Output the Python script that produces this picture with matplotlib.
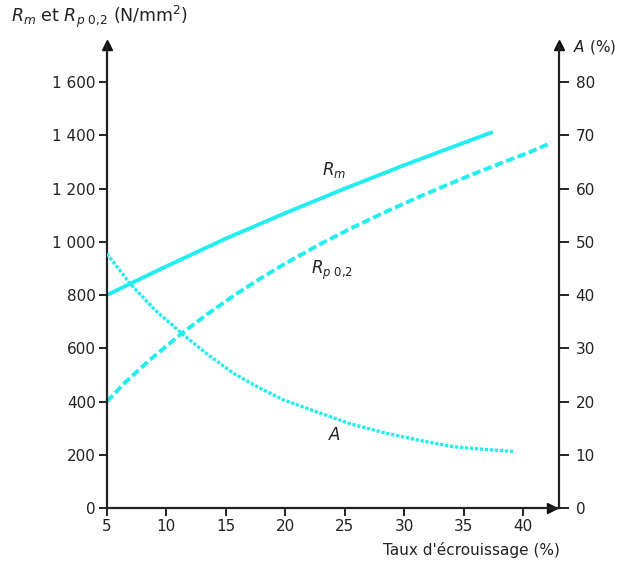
import matplotlib.pyplot as plt

plt.rcParams['font.family'] = ['DejaVu Sans']
plt.rcParams['mathtext.fontset'] = 'custom'
plt.rcParams['mathtext.it'] = 'DejaVu Sans:italic'
plt.rcParams['mathtext.rm'] = 'DejaVu Sans'

# Data
x_rm = [5, 10, 15, 20, 25, 30, 35, 37.3]
rm = [800, 908, 1012, 1108, 1200, 1288, 1372, 1410]

x_rp = [5, 6.5, 8.6, 11.3, 13.5, 15.65, 17.8, 19.9, 23, 25.5, 28.6, 31.5, 34.2, 36.5, 38.4, 40.5, 42.35]
rp = [400, 470, 556, 656, 730, 797, 859, 916, 993, 1050, 1116, 1174, 1225, 1267, 1300, 1336, 1372]

x_a = [5, 6.94, 9.0, 11.3, 13.5, 15.65, 17.8, 19.87, 22.96, 25.5, 28.58, 31.5, 34.2, 36.8, 39.26]
a = [47.8, 42.2, 37.3, 32.8, 28.8, 25.3, 22.6, 20.3, 17.8, 15.8, 14.0, 12.6, 11.5, 11.0, 10.6]

xticks = [5, 10, 15, 20, 25, 30, 35, 40]
left_ticks = [0, 200, 400, 600, 800, 1000, 1200, 1400, 1600]
left_labels = ['0', '200', '400', '600', '800', '1 000', '1 200', '1 400', '1 600']
right_ticks = [0, 10, 20, 30, 40, 50, 60, 70, 80]

cyan = '#22eef0'
ink = '#222222'
fig = plt.figure(figsize=(6.21, 5.67), dpi=100)
ax1 = fig.add_axes([0.172, 0.104, 0.728, 0.816])
ax2 = ax1.twinx()

ax1.plot(x_rm, rm, color=cyan, lw=2.8)
ax1.plot(x_rp, rp, color=cyan, lw=2.8, ls=(0, (2.2, 0.9)))
ax2.plot(x_a, a, color=cyan, lw=2.4, ls=(0, (1, 0.5)))

ax1.set_xlim(5, 43)
ax1.set_ylim(0, 1738)
ax2.set_ylim(0, 1738 / 20)

for ax in (ax1, ax2):
    for s in ax.spines.values():
        s.set_visible(False)
ax1.spines['left'].set_visible(True)
ax1.spines['bottom'].set_visible(True)
ax2.spines['right'].set_visible(True)
for s in (ax1.spines['left'], ax1.spines['bottom'], ax2.spines['right']):
    s.set_linewidth(1.6)
    s.set_color(ink)

ax1.set_xticks(xticks)
ax1.set_yticks(left_ticks)
ax1.set_yticklabels(left_labels)
ax2.set_yticks(right_ticks)
ax1.tick_params(axis='both', direction='out', length=6, width=1.4, labelsize=11,
                colors=ink, pad=2)
ax2.tick_params(axis='y', direction='out', length=7, width=1.4, labelsize=11,
                colors=ink, pad=5)

# arrowheads on the axes
ax1.plot(0, 1, '^', color='#111111', ms=7, transform=ax1.transAxes, clip_on=False)
ax1.plot(1, 1, '^', color='#111111', ms=7, transform=ax1.transAxes, clip_on=False)
ax1.plot(0.985, 0, '>', color='#111111', ms=7, transform=ax1.transAxes, clip_on=False)

# curve labels
ax1.text(23.1, 1250, '$R_m$', fontsize=12, color=ink)
ax1.text(22.2, 880, r'$R_{p\ 0{,}2}$', fontsize=12, color=ink)
ax2.text(23.6, 12.8, '$A$', fontsize=12, color=ink)

fig.text(0.018, 0.962, r'$R_m$ et $R_{p\ 0{,}2}$ (N/mm$^2$)', fontsize=12.5, color=ink)
fig.text(0.922, 0.91, '$A$ (%)', fontsize=11, color=ink)
fig.text(0.902, 0.022, "Taux d'écrouissage (%)", fontsize=11, color=ink, ha='right')

fig.savefig('out.png', dpi=100)
